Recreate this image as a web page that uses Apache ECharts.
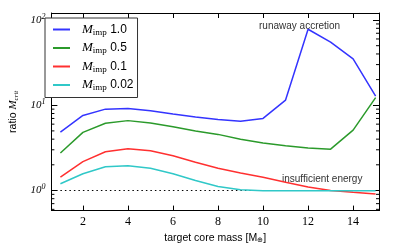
<!DOCTYPE html>
<html lang="en">
<head>
    <meta charset="utf-8" />
    <title>ratio M_crit</title>
    <style>
        html, body, #myChart {
            width: 100%;
            height: 100%;
            margin: 0;
            padding: 0;
            overflow: hidden;
            background: #fff;
        }
    </style>
</head>
<body>
    <div id="myChart"></div>
    <script src="https://cdn.jsdelivr.net/npm/echarts@6/dist/echarts.min.js"></script>
    <script>
        var coreMass = [1, 2, 3, 4, 5, 6, 7, 8, 9, 10, 11, 12, 13, 14, 15];
        var impNames = ['1.0', '0.5', '0.1', '0.02'];
        var ratio10 = [4.85, 7.6, 9.0, 9.15, 8.6, 7.9, 7.3, 6.8, 6.5, 7.0, 11.5, 78, 55, 35, 12.8];
        var ratio05 = [2.75, 4.8, 6.15, 6.6, 6.2, 5.6, 5.0, 4.55, 4.0, 3.6, 3.35, 3.15, 3.05, 5.1, 12.3];
        var ratio01 = [1.43, 2.18, 2.85, 3.08, 2.93, 2.56, 2.14, 1.82, 1.6, 1.43, 1.25, 1.1, 1.0, 0.95, 0.91];
        var ratio002 = [1.2, 1.57, 1.9, 1.95, 1.82, 1.57, 1.31, 1.11, 1.02, 0.99, 0.99, 0.99, 0.99, 0.99, 0.99];
        var minorTicks = [0.6, 0.7, 0.8, 0.9, 2, 3, 4, 5, 6, 7, 8, 9, 20, 30, 40, 50, 60, 70, 80, 90];
        var colors = ['#3434ff', '#2b9a2b', '#ff3030', '#30c8c8'];

        var xMin = 0.6, xMax = 15.15, yMin = 0.58, yMax = 121;
        var serif = 'Liberation Serif';
        var sans = 'Liberation Sans';

        function pairs(vals) {
            return coreMass.map(function (x, i) { return [x, vals[i]]; });
        }

        var xAxisBase = {
            type: 'value',
            min: xMin,
            max: xMax,
            splitNumber: 7,
            splitLine: { show: false },
            axisLine: { onZero: false, lineStyle: { color: '#000', width: 1 } },
            axisTick: { inside: true, length: 5, lineStyle: { color: '#000' } }
        };
        var yAxisBase = {
            type: 'log',
            logBase: 10,
            min: yMin,
            max: yMax,
            splitLine: { show: false },
            axisLine: { show: true, lineStyle: { color: '#000', width: 1 } },
            axisTick: { inside: true, length: 6, lineStyle: { color: '#000' } }
        };

        var myChart = echarts.init(document.getElementById('myChart'));
        var lineSeries = [ratio10, ratio05, ratio01, ratio002].map(function (vals, i) {
            var s = {
                name: impNames[i],
                type: 'line',
                data: pairs(vals),
                symbol: 'none',
                lineStyle: { width: 1.5, color: colors[i] },
                itemStyle: { color: colors[i] },
                z: 3 + i
            };
            if (i == 0) {
                s.markLine = {
                    silent: true,
                    symbol: 'none',
                    label: { show: false },
                    lineStyle: { color: '#000', type: [1.5, 3], width: 1 },
                    data: [{ yAxis: 1 }]
                };
            }
            return s;
        });

        option = {
            animation: false,
            grid: { left: 40, right: 20, top: 13, bottom: 37 },
            legend: {
                data: impNames,
                orient: 'vertical',
                left: 45,
                top: 18,
                padding: [5, 4, 5, 8],
                itemGap: 4.5,
                itemWidth: 17,
                itemHeight: 2,
                icon: 'rect',
                borderColor: '#333',
                borderWidth: 1,
                borderRadius: 0,
                backgroundColor: '#fff',
                formatter: function (name) {
                    return '{m|M}{s|imp} {v|' + name + '}';
                },
                textStyle: {
                    rich: {
                        m: { fontFamily: serif, fontStyle: 'italic', fontSize: 13, color: '#000', padding: [0, 0, 0, 7] },
                        s: { fontFamily: serif, fontSize: 9, color: '#000', padding: [6, 0, 0, 0] },
                        v: { fontFamily: sans, fontSize: 12, color: '#000' }
                    }
                }
            },
            xAxis: [
                Object.assign({}, xAxisBase, {
                    position: 'bottom',
                    name: 'target core mass [M{s|⊕}]',
                    nameLocation: 'middle',
                    nameGap: 16,
                    nameTextStyle: {
                        fontFamily: sans, fontSize: 10.5, color: '#000',
                        rich: { s: { fontFamily: sans, fontSize: 7, color: '#000', padding: [5, 0, 0, 0] } }
                    },
                    axisLabel: {
                        fontFamily: serif, fontSize: 12, color: '#000', margin: 5,
                        showMinLabel: false, showMaxLabel: false,
                        formatter: function (v) { return v % 2 === 0 ? String(v) : ''; }
                    }
                }),
                Object.assign({}, xAxisBase, { position: 'top', axisLabel: { show: false } })
            ],
            yAxis: [
                Object.assign({}, yAxisBase, {
                    position: 'left',
                    name: 'ratio {m|M}{s|crit}',
                    nameLocation: 'middle',
                    nameGap: 24,
                    nameTextStyle: {
                        fontFamily: sans, fontSize: 10.5, color: '#000',
                        rich: {
                            m: { fontFamily: serif, fontStyle: 'italic', fontSize: 11, color: '#000' },
                            s: { fontFamily: serif, fontStyle: 'italic', fontSize: 7, color: '#000', padding: [5, 0, 0, 0] }
                        }
                    },
                    axisLabel: {
                        margin: 6,
                        showMinLabel: false, showMaxLabel: false,
                        formatter: function (v) {
                            var e = Math.round(Math.log10(v));
                            if (Math.abs(Math.log10(v) - e) > 1e-6) return '';
                            return '{b|10}{e|' + e + '}';
                        },
                        rich: {
                            b: { fontFamily: serif, fontStyle: 'italic', fontSize: 11, color: '#000' },
                            e: { fontFamily: serif, fontStyle: 'italic', fontSize: 8, color: '#000', padding: [0, 0, 7, 0] }
                        }
                    }
                }),
                Object.assign({}, yAxisBase, { position: 'right', axisLabel: { show: false } })
            ],
            series: lineSeries.concat([{
                type: 'custom',
                silent: true,
                data: minorTicks,
                encode: { y: 0 },
                renderItem: function (params, api) {
                    var v = api.value(0);
                    var l = api.coord([xMin, v]);
                    var r = api.coord([xMax, v]);
                    var st = { stroke: '#000', lineWidth: 1 };
                    return {
                        type: 'group',
                        children: [
                            { type: 'line', shape: { x1: l[0], y1: l[1], x2: l[0] + 3, y2: l[1] }, style: st },
                            { type: 'line', shape: { x1: r[0], y1: r[1], x2: r[0] - 3, y2: r[1] }, style: st }
                        ]
                    };
                }
            }]),
            graphic: [
                { type: 'text', left: 259, top: 21, style: { text: 'runaway accretion', fontFamily: sans, fontSize: 10, fill: '#333' } },
                { type: 'text', left: 282, top: 174, style: { text: 'insufficient energy', fontFamily: sans, fontSize: 10, fill: '#333' } }
            ]
        };
        myChart.setOption(option);
    </script>
</body>
</html>
